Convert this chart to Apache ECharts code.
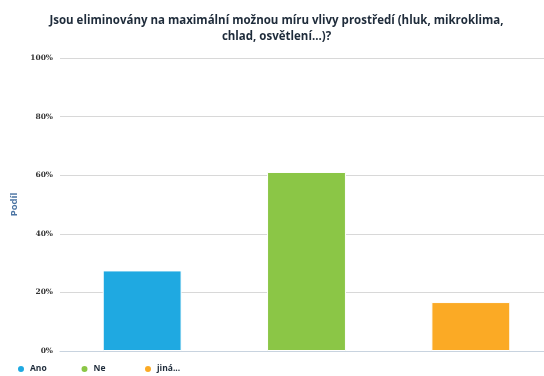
<!DOCTYPE html>
<html>
<head>
<meta charset="utf-8">
<script src="https://cdn.jsdelivr.net/npm/echarts@6/dist/echarts.min.js"></script>
<style>
  html, body { margin: 0; padding: 0; background: #ffffff; overflow: hidden; }
  #chart { width: 553px; height: 376px; }
</style>
</head>
<body>
<div id="chart"></div>
<script>
// Answer categories and their share of respondents (%)
const categories = ['Ano', 'Ne', 'jiná...'];
const shares = [27.5, 61.1, 16.7];
const colors = ['#1fa9e1', '#8bc646', '#fbaa25'];
const yTicks = [0, 20, 40, 60, 80, 100];

const chart = echarts.init(document.getElementById('chart'));

// One series per answer so each gets its own legend entry; they share a slot per category.
const series = categories.map((name, i) => ({
  name: name,
  type: 'bar',
  barWidth: '48%',
  barGap: '-100%',
  itemStyle: { color: colors[i], borderColor: '#ffffff', borderWidth: 1 },
  data: categories.map((c, j) => (j === i ? shares[i] : '-'))
}));

// Legend entries laid out on a fixed pitch, one legend component each
const legendPitch = 63.5;
const legends = categories.map((name, i) => ({
  left: 16 + i * legendPitch,
  bottom: 2,
  icon: 'circle',
  itemWidth: 8,
  itemHeight: 8,
  padding: 0,
  data: [name],
  textStyle: {
    fontFamily: 'Open Sans, DejaVu Sans, sans-serif',
    fontSize: 8.5,
    fontWeight: 'bold',
    color: '#1e2b3a'
  }
}));

chart.setOption({
  animation: false,
  title: {
    text: 'Jsou eliminovány na maximální možnou míru vlivy prostředí (hluk, mikroklima,\nchlad, osvětlení...)?',
    left: 'center',
    top: 8,
    textStyle: {
      fontFamily: 'Open Sans, DejaVu Sans, sans-serif',
      fontSize: 11.5,
      fontWeight: 'bold',
      color: '#1e2b3a',
      lineHeight: 16
    }
  },
  legend: legends,
  grid: {
    left: 60,
    right: 0,
    top: 58,
    bottom: 25,
    containLabel: false
  },
  xAxis: {
    type: 'category',
    data: categories,
    axisLine: { lineStyle: { color: '#c8d3df', width: 1 } },
    axisTick: { alignWithLabel: true, length: 4, lineStyle: { color: '#c8d3df' } },
    axisLabel: { show: false }
  },
  yAxis: {
    type: 'value',
    min: 0,
    max: 100,
    interval: 20,
    name: 'Podíl',
    nameLocation: 'middle',
    nameGap: 37,
    nameTextStyle: {
      fontFamily: 'Open Sans, DejaVu Sans, sans-serif',
      fontSize: 9.5,
      fontWeight: 'bold',
      color: '#4b74a3'
    },
    axisLabel: {
      fontFamily: 'DejaVu Serif, serif',
      fontSize: 7.5,
      fontWeight: 'bold',
      color: '#333333',
      margin: 7,
      formatter: v => (yTicks.includes(v) ? v + '%' : '')
    },
    splitLine: { lineStyle: { color: '#d8d8d8', width: 1 } },
    axisLine: { show: false },
    axisTick: { show: false }
  },
  series: series
});
</script>
</body>
</html>
